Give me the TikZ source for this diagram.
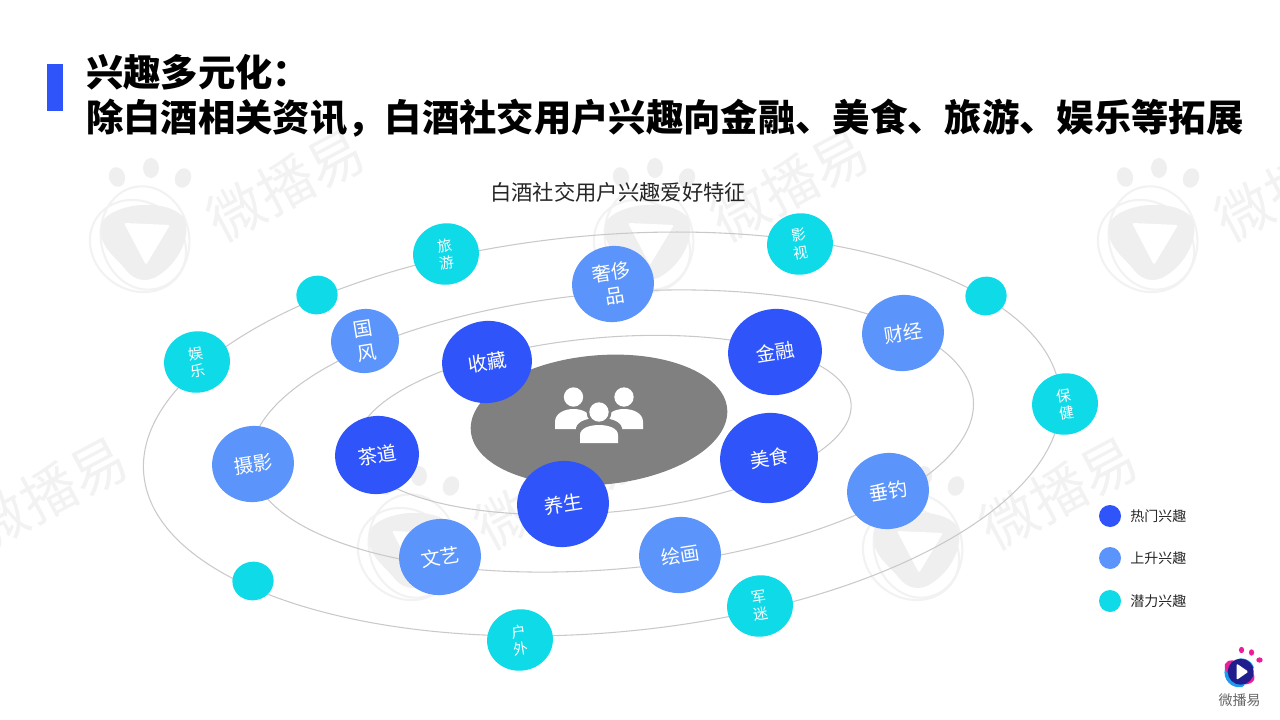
\documentclass[tikz,border=0pt]{standalone}
\usepackage{fontspec}
\setmainfont{Noto Sans CJK SC}
\usetikzlibrary{shapes.geometric}
\definecolor{hotblue}{HTML}{2F54FA}
\definecolor{riseblue}{HTML}{5B94FA}
\definecolor{potcyan}{HTML}{0EDAE8}
\definecolor{orbitgray}{HTML}{C9C9C9}
\definecolor{marklight}{HTML}{EFEFEF}
\definecolor{marktext}{HTML}{F2F2F2}
\definecolor{logonavy}{HTML}{1F1E8C}
\definecolor{logopink}{HTML}{EE1C98}
\definecolor{logosky}{HTML}{1E9BF0}
\tikzset{
	orbit/.style={draw=orbitgray,ellipse,line width=0.8pt,inner sep=0pt,rotate=5},
	bubble/.style={ellipse,inner sep=0pt,text=white,align=center,rotate=9},
	hot/.style={bubble,fill=hotblue,font=\fontsize{14.5}{18}\selectfont},
	rise/.style={bubble,fill=riseblue,font=\fontsize{14.5}{18}\selectfont},
	pot/.style={bubble,fill=potcyan,font=\fontsize{11}{13}\selectfont},
	legdot/.style={circle,minimum size=16.5pt,inner sep=0pt},
	legtext/.style={anchor=west,inner sep=0pt,font=\fontsize{10.5}{12}\selectfont,text=black!85},
	head/.style={circle,fill=white,minimum size=14.5pt,inner sep=0pt},
	pics/watermark/.style={code={
		\fill[marklight] (-27,-63) ellipse[x radius=8,y radius=10,rotate=15];
		\fill[marklight] (7,-72) ellipse[x radius=8,y radius=10];
		\fill[marklight] (39,-62) ellipse[x radius=8,y radius=10,rotate=-20];
		\draw[marktext,line width=1.6pt] (-6,6) ellipse[x radius=50,y radius=44,rotate=-35];
		\draw[marktext,line width=1.6pt] (1,-2) ellipse[x radius=44,y radius=52,rotate=12];
		\fill[marklight] (-42,-18) .. controls (-30,-38) and (25,-42) .. (40,-22) .. controls (48,-5) and (35,25) .. (10,38) .. controls (0,42) and (-10,40) .. (-18,30) .. controls (-30,15) and (-48,5) .. (-42,-18);
		\fill[white,rounded corners=1.5pt] (-20,-17) -- (26,-15) -- (2,25) -- cycle;
		\node[rotate=28,text=marktext,inner sep=0pt,font=\fontsize{42}{42}\selectfont] at (142,-55) {微播易};
	}},
}
\begin{document}
\begin{tikzpicture}[x=0.75pt,y=-0.75pt]
	\useasboundingbox (0,0) rectangle (1280,720);

	\pic at (144,240) {watermark};
	\pic at (648,240) {watermark};
	\pic at (1152,240) {watermark};
	\pic at (-93,548) {watermark};
	\pic at (412,548) {watermark};
	\pic at (917,548) {watermark};

	\fill[hotblue] (47,64) rectangle (63,111);
	\node[anchor=west,inner sep=0pt,font=\fontsize{28}{34}\selectfont\bfseries] (line1) at (86,72) {兴趣多元化：};
	\node[anchor=west,inner sep=0pt,font=\fontsize{28}{34}\selectfont\bfseries] (line2) at (86,118) {除白酒相关资讯，白酒社交用户兴趣向金融、美食、旅游、娱乐等拓展};
	\node[inner sep=0pt,font=\fontsize{16}{20}\selectfont,text=black!85] (sub) at (618,192) {白酒社交用户兴趣爱好特征};

	\node[orbit,minimum width=690pt,minimum height=298pt] (outer) at (602,434) {};
	\node[orbit,minimum width=544pt,minimum height=207pt] (middle) at (612,431) {};
	\node[orbit,minimum width=372pt,minimum height=131pt] (inner) at (604,425) {};

	\node[ellipse,fill=black!50,inner sep=0pt,rotate=5,minimum width=193pt,minimum height=97pt] (core) at (599,420) {};
	\node[head] (headl) at (573.5,397) {};
	\node[head] (headr) at (624,397) {};
	\fill[white] (555,429) -- (555,422) .. controls (555,413) and (565,409) .. (573.5,409) .. controls (582,409) and (592,413) .. (592,422) -- (592,429) -- cycle;
	\fill[white] (606,429) -- (606,422) .. controls (606,413) and (615,409) .. (624,409) .. controls (633,409) and (643,413) .. (643,422) -- (643,429) -- cycle;
	\fill[black!50] (576,445) -- (576,428) .. controls (578,420) and (590,418) .. (599,418) .. controls (608,418) and (620,420) .. (622,428) -- (622,445) -- cycle;
	\fill[white] (580,443) -- (580,435) .. controls (580,428) and (590,425) .. (599,425) .. controls (608,425) and (618,428) .. (618,435) -- (618,443) -- cycle;
	\fill[black!50] (599,412) circle[radius=12.5];
	\node[head] (headm) at (599,412) {};

	\node[pot,minimum width=49.5pt,minimum height=46pt] (travel) at (446,254) {旅\\游};
	\node[pot,minimum width=31pt,minimum height=29pt] (blanka) at (317,295) {};
	\node[pot,minimum width=49.5pt,minimum height=46pt] (fun) at (197,362) {娱\\乐};
	\node[pot,minimum width=49.5pt,minimum height=46pt] (film) at (800,244) {影\\视};
	\node[pot,minimum width=31pt,minimum height=29pt] (blankb) at (986,296) {};
	\node[pot,minimum width=49.5pt,minimum height=46pt] (health) at (1065,404) {保\\健};
	\node[pot,minimum width=49.5pt,minimum height=46pt] (outdoor) at (520,640) {户\\外};
	\node[pot,minimum width=49.5pt,minimum height=46pt] (army) at (760,606) {军\\迷};
	\node[pot,minimum width=31pt,minimum height=29pt] (blankc) at (253,581) {};

	\node[rise,minimum width=61.5pt,minimum height=57pt] (luxury) at (613,284) {奢侈\\品};
	\node[rise,minimum width=51pt,minimum height=48pt] (guofeng) at (365,341) {国\\风};
	\node[rise,minimum width=61.5pt,minimum height=57pt] (finance) at (903,333) {财经};
	\node[rise,minimum width=61.5pt,minimum height=57pt] (photo) at (253,464) {摄影};
	\node[rise,minimum width=61.5pt,minimum height=57pt] (art) at (440,557) {文艺};
	\node[rise,minimum width=61.5pt,minimum height=57pt] (paint) at (680,555) {绘画};
	\node[rise,minimum width=61.5pt,minimum height=57pt] (fish) at (888,491) {垂钓};

	\node[hot,minimum width=67.5pt,minimum height=61.5pt] (collect) at (487,362) {收藏};
	\node[hot,minimum width=70.5pt,minimum height=64.5pt] (money) at (775,352) {金融};
	\node[hot,minimum width=63pt,minimum height=58.5pt] (tea) at (377,455) {茶道};
	\node[hot,minimum width=73.5pt,minimum height=67.5pt] (food) at (769,458) {美食};
	\node[hot,minimum width=69pt,minimum height=64.5pt] (wellness) at (563,504) {养生};

	\node[legdot,fill=hotblue] (dothot) at (1110,516) {};
	\node[legdot,fill=riseblue] (dotrise) at (1110,558) {};
	\node[legdot,fill=potcyan] (dotpot) at (1110,601) {};
	\node[legtext] (texthot) at (1130,516) {热门兴趣};
	\node[legtext] (textrise) at (1130,558) {上升兴趣};
	\node[legtext] (textpot) at (1130,601) {潜力兴趣};

	\fill[logopink] (1241.5,650) ellipse[x radius=2.6,y radius=3.2];
	\fill[logopink] (1251.5,652.5) ellipse[x radius=2.6,y radius=3.2];
	\fill[logopink] (1259.5,660) ellipse[x radius=3.2,y radius=2.6];
	\fill[logosky] (1225,668) .. controls (1222,680) and (1232,689) .. (1242,687) .. controls (1250,684) and (1240,672) .. (1236,668) .. controls (1232,664) and (1227,662) .. (1225,668);
	\fill[logosky] (1236,660) .. controls (1242,656) and (1252,660) .. (1254,668) .. controls (1250,672) and (1240,668) .. (1236,660);
	\fill[logopink] (1225,664) .. controls (1228,658) and (1236,660) .. (1242,664) .. controls (1250,668) and (1256,672) .. (1254,680) .. controls (1250,686) and (1242,685) .. (1238,682) .. controls (1232,676) and (1223,672) .. (1225,664);
	\fill[logonavy] (1240.7,671.7) circle[radius=13];
	\fill[white,rounded corners=1pt] (1236.5,663.5) -- (1248.5,671.7) -- (1236.5,680) -- cycle;
	\node[inner sep=0pt,font=\fontsize{10.5}{12}\selectfont,text=black!60] (brand) at (1239.5,700) {微播易};
\end{tikzpicture}
\end{document}
